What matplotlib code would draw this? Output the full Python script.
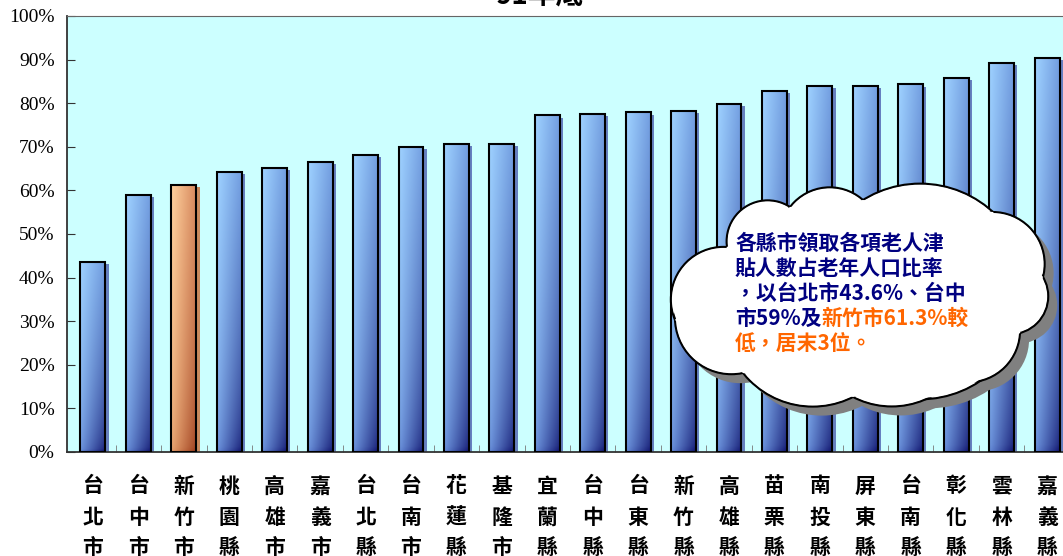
import numpy as np
import matplotlib
matplotlib.use("Agg")
import matplotlib.pyplot as plt
from matplotlib.patches import Rectangle, Circle, Polygon

categories = ["台北市", "台中市", "新竹市", "桃園縣", "高雄市", "嘉義市", "台北縣", "台南市",
              "花蓮縣", "基隆市", "宜蘭縣", "台中縣", "台東縣", "新竹縣", "高雄縣", "苗栗縣",
              "南投縣", "屏東縣", "台南縣", "彰化縣", "雲林縣", "嘉義縣"]
values = [43.6, 59.0, 61.3, 64.3, 65.1, 66.6, 68.1, 70.0, 70.7, 70.7, 77.2, 77.5,
          77.9, 78.3, 79.8, 82.8, 83.9, 83.9, 84.3, 85.8, 89.2, 90.4]
highlight = "新竹市"
yticks = [0, 10, 20, 30, 40, 50, 60, 70, 80, 90, 100]

title = "91年底"
note_lines = ["各縣市領取各項老人津", "貼人數占老年人口比率", "，以台北市43.6%、台中"]
note_mixed = ("市59%及", "新竹市61.3%較")
note_last = "低，居末3位。"

CJK = ["Noto Sans CJK TC", "DejaVu Sans"]
W, H = 1063, 556

# ------------------------------------------------------
# gradient fill for the bars
# ------------------------------------------------------
def grad_img(top_l, top_r, bot_l, bot_r, n=80):
    yy, xx = np.mgrid[0:1:n * 1j, 0:1:24j]
    w = (yy ** 0.5)[..., None]
    xx = xx[..., None]
    tl, tr, bl, br = [np.array(c) for c in (top_l, top_r, bot_l, bot_r)]
    img = (1 - xx) * (1 - w) * bl + xx * (1 - w) * br + (1 - xx) * w * tl + xx * w * tr
    return np.clip(img, 0, 1)

blue_img = grad_img((0.62, 0.82, 1.0), (0.45, 0.62, 0.88), (0.40, 0.55, 0.85), (0.08, 0.10, 0.45))
orange_img = grad_img((1.0, 0.82, 0.62), (0.85, 0.55, 0.38), (0.90, 0.62, 0.42), (0.62, 0.25, 0.12))

fig = plt.figure(figsize=(W / 100, H / 100), dpi=100)
fig.patch.set_facecolor("white")

unit = 45.43
x_lo = -0.572
x_hi = 21.5
ax = fig.add_axes([67 / W, 104 / H, (x_hi - x_lo) * unit / W, 436 / H])
ax.set_facecolor("#CCFFFF")

bw = 0.55
for i, (cat, v) in enumerate(zip(categories, values)):
    hl = cat == highlight
    img = orange_img if hl else blue_img
    sh = "#C98A5E" if hl else "#6680C0"
    ax.add_patch(Rectangle((i - bw / 2 + 0.07, 0), bw, v - 0.5, facecolor=sh,
                           edgecolor="none", zorder=2))
    ax.imshow(img, extent=(i - bw / 2, i + bw / 2, 0, v), origin="lower",
              aspect="auto", zorder=3, interpolation="bilinear")
    ax.add_patch(Rectangle((i - bw / 2, 0), bw, v, facecolor="none",
                           edgecolor="black", linewidth=1.5, zorder=4))

ax.set_xlim(x_lo, x_hi)
ax.set_ylim(0, 100)
ax.set_yticks(yticks)
ax.set_yticklabels([f"{t}%" for t in yticks], family="Liberation Serif", fontsize=14)
ax.tick_params(axis="y", direction="in", length=6, pad=9, color="#333333")
ax.set_xticks([])
ax.set_xticks(np.arange(0.5, len(categories) - 0.5, 1), minor=True)
ax.tick_params(axis="x", which="minor", direction="in", length=5, color="#777777")
for s in ["left", "bottom"]:
    ax.spines[s].set_color("#333333")
    ax.spines[s].set_linewidth(1.3)
ax.spines["top"].set_color("#666666")
ax.spines["right"].set_visible(False)

# vertical category labels
rows = [486, 517, 547]
for i, cat in enumerate(categories):
    for k, ch in enumerate(cat):
        ax.text(i, (452 - rows[k]) / 436, ch, transform=ax.get_xaxis_transform(),
                ha="center", va="center", fontsize=15, weight="bold",
                family=CJK, clip_on=False)

fig.text(540 / W, 1 - 5 / H, title, ha="center", va="baseline", fontsize=20,
         weight="bold", family=CJK)

# ------------------------------------------------------
# cloud callout (overlay axes in pixel units)
# ------------------------------------------------------
ov = fig.add_axes([0, 0, 1, 1])
ov.set_xlim(0, W)
ov.set_ylim(H, 0)
ov.axis("off")
ov.patch.set_alpha(0)

# notch points of the cloud outline and bulge of each lobe
notches = [(727, 247), (790, 207), (863, 200), (993, 212), (1043, 277),
           (1020, 333), (953, 380), (853, 397), (743, 373), (675, 320)]
bulge = [24, 16, 22, 20, 15, 20, 17, 20, 20, 25]
centre = np.array([860, 295])

lobes = []
for k in range(len(notches)):
    p = np.array(notches[k - 1], float)
    q = np.array(notches[k], float)
    s = bulge[k - 1] if k else bulge[-1]
    c = np.linalg.norm(q - p)
    r = (c * c / 4 + s * s) / (2 * s)
    mid = (p + q) / 2
    nrm = np.array([-(q - p)[1], (q - p)[0]]) / c
    if np.dot(centre - mid, nrm) < 0:
        nrm = -nrm
    lobes.append((mid + nrm * (r - s), r))

off = np.array([9, 9])
for cc, r in lobes:
    ov.add_patch(Circle(cc + off, r, facecolor="#808080", edgecolor="none", zorder=1))
ov.add_patch(Polygon(np.array(notches) + off, closed=True, facecolor="#808080",
                     edgecolor="none", zorder=1))
for cc, r in lobes:
    ov.add_patch(Circle(cc, r, facecolor="white", edgecolor="black", linewidth=1.5, zorder=2))
for cc, r in lobes:
    ov.add_patch(Circle(cc, r - 1.5, facecolor="white", edgecolor="none", zorder=3))
ov.add_patch(Polygon(notches, closed=True, facecolor="white", edgecolor="none", zorder=3))

navy = "#000080"
orange = "#FF6600"
ys = [243, 268, 293, 318, 343]
tx = 735
for y, line in zip(ys, note_lines):
    ov.text(tx, y, line, color=navy, fontsize=15, weight="bold", family=CJK,
            va="center", ha="left", zorder=5)
t1 = ov.text(tx, ys[3], note_mixed[0], color=navy, fontsize=15, weight="bold",
             family=CJK, va="center", ha="left", zorder=5)
ov.text(tx, ys[4], note_last, color=orange, fontsize=15, weight="bold", family=CJK,
        va="center", ha="left", zorder=5)
fig.canvas.draw()
bb = t1.get_window_extent(fig.canvas.get_renderer())
ov.text(bb.x1, ys[3], note_mixed[1], color=orange, fontsize=15, weight="bold",
        family=CJK, va="center", ha="left", zorder=5)

fig.savefig("out.png", dpi=100)
